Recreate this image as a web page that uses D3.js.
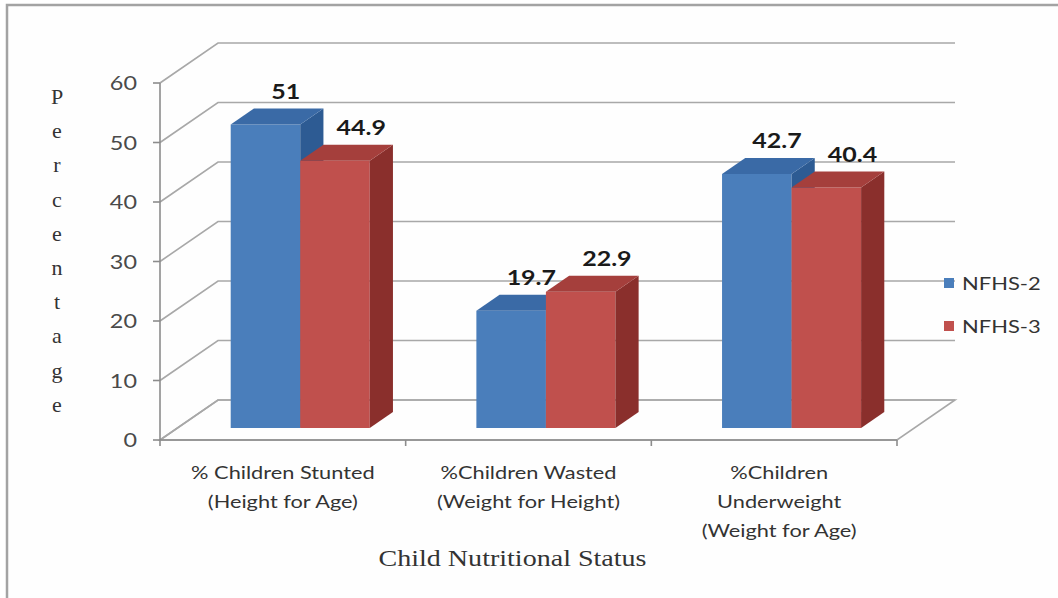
<!DOCTYPE html>
<html>
<head>
<meta charset="utf-8">
<script src="https://cdn.jsdelivr.net/npm/d3@7"></script>
<style>
  body { margin: 0; background: #ffffff; }
  svg { display: block; }
</style>
</head>
<body>
<div id="chart"></div>
<script>
// chart data
var categories = [
    ["% Children Stunted", "(Height for Age)"],
    ["%Children Wasted", "(Weight for Height)"],
    ["%Children", "Underweight", "(Weight for Age)"]
];
var seriesNames = ["NFHS-2", "NFHS-3"];
var nfhs2 = [51, 19.7, 42.7];
var nfhs3 = [44.9, 22.9, 40.4];
var yTicks = [0, 10, 20, 30, 40, 50, 60];
var yTitle = "Percentage";
var xTitle = "Child Nutritional Status";

var width = 1058, height = 598;
var series = [nfhs2, nfhs3];
var frontColor = ["#4a7ebb", "#c0504d"];
var sideColor = ["#2d5b93", "#8a2f2c"];
var topColor = ["#3a6aa6", "#a53f3c"];

// depth of the 3d box (front plane -> back wall)
var DX = 58, DY = -40;
// bars sit between these depth fractions
var Z0 = 0.3, Z1 = 0.7;
var STRETCH = 1.25;

var svg = d3.select("#chart").append("svg")
    .attr("width", width)
    .attr("height", height);

// frame
svg.append("rect")
    .attr("x", 7).attr("y", 5)
    .attr("width", width + 20).attr("height", height + 20)
    .attr("fill", "#fefefe")
    .attr("stroke", "#a3a3a3")
    .attr("stroke-width", 2.5);

var y = d3.scaleLinear().domain([0, 60]).range([440, 83]);
var x0 = d3.scaleBand().domain(d3.range(categories.length))
    .range([160, 897]).paddingInner(0.434).paddingOuter(0.217);
var x1 = d3.scaleBand().domain(d3.range(series.length))
    .range([0, x0.bandwidth()]);

function proj(x, v, z) {
    return [x + z * DX, y(v) + z * DY];
}
function poly(pts) {
    return pts.map(function (p) { return p.join(","); }).join(" ");
}
// text stretched horizontally, like the original picture
function wideText(g, x, yy, sx) {
    return g.append("text")
        .attr("transform", "translate(" + x + "," + yy + ") scale(" + sx + ",1)");
}

var x0Left = x0.range()[0], x0Right = x0.range()[1];

// back wall gridlines + left wall diagonals
var grid = svg.append("g").attr("stroke", "#a8a8a8").attr("stroke-width", 1.6).attr("fill", "none");
yTicks.forEach(function (t) {
    var a = proj(x0Left, t, 0), b = proj(x0Left, t, 1), c = proj(x0Right, t, 1);
    grid.append("polyline").attr("points", poly([a, b, c]));
});

// floor
svg.append("polygon")
    .attr("points", poly([proj(x0Left, 0, 0), proj(x0Right, 0, 0), proj(x0Right, 0, 1), proj(x0Left, 0, 1)]))
    .attr("fill", "none")
    .attr("stroke", "#a8a8a8")
    .attr("stroke-width", 1.6);

// y axis
var axisG = svg.append("g");
axisG.append("line")
    .attr("x1", x0Left).attr("x2", x0Left)
    .attr("y1", y(0)).attr("y2", y(60))
    .attr("stroke", "#8c8c8c").attr("stroke-width", 1.6);
yTicks.forEach(function (t) {
    axisG.append("line")
        .attr("x1", x0Left - 7).attr("x2", x0Left)
        .attr("y1", y(t)).attr("y2", y(t))
        .attr("stroke", "#8c8c8c").attr("stroke-width", 1.6);
    wideText(axisG, 137, y(t) + 7, 1.17)
        .attr("text-anchor", "end")
        .attr("font-family", "Lato, sans-serif")
        .attr("font-size", 20)
        .attr("fill", "#4a4a4a")
        .text(t);
});

// x axis front edge + ticks
axisG.append("line")
    .attr("x1", x0Left).attr("x2", x0Right)
    .attr("y1", y(0)).attr("y2", y(0))
    .attr("stroke", "#8c8c8c").attr("stroke-width", 1.6);
var step = x0.step();
d3.range(categories.length + 1).forEach(function (i) {
    var xx = x0Left + i * step;
    axisG.append("line")
        .attr("x1", xx).attr("x2", xx)
        .attr("y1", y(0)).attr("y2", y(0) + 6)
        .attr("stroke", "#8c8c8c").attr("stroke-width", 1.6);
});

// bars
var bars = svg.append("g");
categories.forEach(function (cat, ci) {
    series.forEach(function (vals, si) {
        var v = vals[ci];
        var xa = x0(ci) + x1(si), xb = xa + x1.bandwidth();
        var g = bars.append("g");
        g.append("polygon")
            .attr("points", poly([proj(xa, 0, Z0), proj(xb, 0, Z0), proj(xb, v, Z0), proj(xa, v, Z0)]))
            .attr("fill", frontColor[si]);
        g.append("polygon")
            .attr("points", poly([proj(xb, 0, Z0), proj(xb, 0, Z1), proj(xb, v, Z1), proj(xb, v, Z0)]))
            .attr("fill", sideColor[si]);
        g.append("polygon")
            .attr("points", poly([proj(xa, v, Z0), proj(xb, v, Z0), proj(xb, v, Z1), proj(xa, v, Z1)]))
            .attr("fill", topColor[si]);
    });
});

// value labels
var labels = svg.append("g");
categories.forEach(function (cat, ci) {
    series.forEach(function (vals, si) {
        var v = vals[ci];
        var xc = x0(ci) + x1(si) + x1.bandwidth() / 2;
        var p = proj(xc, v, Z1);
        wideText(labels, p[0] - 3 + si * 6, p[1] - 10, STRETCH)
            .attr("text-anchor", "middle")
            .attr("font-family", "Lato, sans-serif")
            .attr("font-weight", "bold")
            .attr("font-size", 20)
            .attr("fill", "#1a1a1a")
            .text(v);
    });
});

// category labels
var catG = svg.append("g");
categories.forEach(function (lines, ci) {
    var xc = x0(ci) + x0.bandwidth() / 2;
    lines.forEach(function (ln, li) {
        wideText(catG, xc + (ci === 2 ? 5 : 0), 479 + li * 29, 1.28)
            .attr("text-anchor", "middle")
            .attr("font-family", "Lato, sans-serif")
            .attr("font-size", 17)
            .attr("fill", "#333333")
            .text(ln);
    });
});

// axis titles
wideText(svg, (x0Left + x0Right) / 2 - 16, 566, 1.22)
    .attr("text-anchor", "middle")
    .attr("font-family", "'Liberation Serif', serif")
    .attr("font-size", 23)
    .attr("fill", "#333333")
    .text(xTitle);

var yt = svg.append("g");
yTitle.split("").forEach(function (ch, i) {
    yt.append("text")
        .attr("x", 57)
        .attr("y", 104 + i * 34.2)
        .attr("text-anchor", "middle")
        .attr("font-family", "'Liberation Serif', serif")
        .attr("font-size", 22)
        .attr("fill", "#333333")
        .text(ch);
});

// legend
var legend = svg.append("g");
seriesNames.forEach(function (name, i) {
    var ly = 283 + i * 43;
    legend.append("rect")
        .attr("x", 944).attr("y", ly - 5)
        .attr("width", 10).attr("height", 10)
        .attr("fill", frontColor[i]);
    wideText(legend, 962, ly + 7, 1.22)
        .attr("font-family", "Lato, sans-serif")
        .attr("font-size", 18)
        .attr("fill", "#333333")
        .text(name);
});
</script>
</body>
</html>
